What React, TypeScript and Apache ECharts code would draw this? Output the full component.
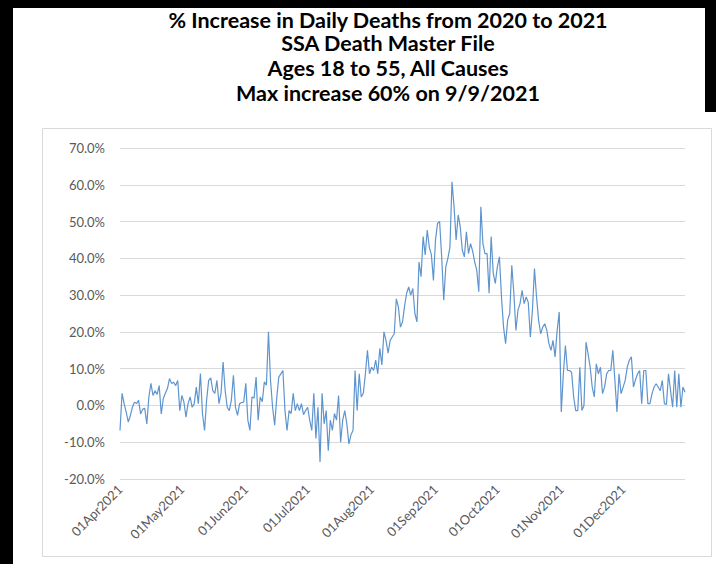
import React, { useEffect, useRef } from "react";
import * as echarts from "echarts";

const TITLE_LINES = [
  "% Increase in Daily Deaths from 2020 to 2021",
  "SSA Death Master File",
  "Ages 18 to 55, All Causes",
  "Max increase 60% on 9/9/2021",
];

const MONTH_NAMES = ["Jan", "Feb", "Mar", "Apr", "May", "Jun", "Jul", "Aug", "Sep", "Oct", "Nov", "Dec"];

// % increase per day, 2021 vs 2020
const APR = [-6.8, 3.3, 0.5, -1.8, -4.5, -2.8, -0.5, 0.9, 0.5, 1.4, -2.3, -1.0, -0.8, -5.0, 2.3, 6.0, 2.7, 4.0, 3.0, 5.4, -2.3, 1.9, 3.3, 4.6, 7.3, 6.0, 6.3, 5.4, 6.8, -1.4];
const MAY = [2.7, 0.9, -3.2, 0.5, 2.3, -0.5, 0.5, 5.0, 0.5, 8.7, -2.2, -6.8, 1.4, 6.8, 7.5, 4.0, 3.3, 6.8, 0.5, 3.3, 11.8, 4.0, -0.5, -1.4, 1.4, 8.2, -0.5, -2.7, 0.5, 0.8, 0.9];
const JUN = [6.0, -4.0, -6.8, 2.3, 2.0, 7.7, -4.0, 2.3, 1.0, 6.4, 5.5, 20.0, 6.8, -0.5, -5.4, 2.0, 7.7, 8.6, 9.5, -1.4, -6.8, -1.4, -2.2, 3.3, -1.4, 0.5, -1.4, 0.5, -2.5, -1.4];
const JUL = [-0.5, -4.0, -6.8, 3.3, -9.0, -0.5, -15.4, 3.3, -5.0, -1.4, -12.3, -4.0, -6.8, -2.2, -4.0, 2.7, -10.0, -4.0, -1.4, -5.0, -10.5, -8.0, -6.8, 9.5, -1.4, 8.6, 2.3, 3.3, 8.6, 15.0, 8.6];
const AUG = [10.4, 9.5, 12.3, 8.6, 15.5, 11.0, 20.0, 17.7, 14.2, 17.7, 18.6, 19.5, 29.0, 26.8, 21.3, 22.7, 27.0, 30.5, 32.2, 30.0, 31.8, 25.0, 22.7, 39.0, 35.0, 45.9, 40.9, 47.7, 43.0, 41.0, 34.0];
const SEP = [45.0, 49.5, 50.0, 40.4, 28.6, 37.7, 40.0, 43.0, 60.8, 54.0, 45.0, 51.8, 48.6, 42.2, 40.4, 47.2, 41.3, 44.0, 42.0, 39.0, 36.8, 30.9, 54.0, 44.0, 41.3, 41.3, 30.5, 45.9, 36.0, 33.2];
const OCT = [37.7, 40.4, 29.5, 21.3, 16.8, 23.2, 25.0, 38.1, 30.5, 20.4, 25.9, 27.7, 31.3, 27.7, 29.5, 28.0, 18.6, 25.9, 37.2, 29.5, 23.2, 19.5, 21.3, 22.2, 20.4, 16.8, 15.0, 17.7, 13.2, 20.4, 25.4];
const NOV = [-1.8, 8.6, 16.3, 9.5, 9.5, 9.0, 2.3, -1.4, -1.4, 10.4, -1.4, 0.0, 17.2, 14.0, 10.4, 5.0, 2.3, 11.3, 8.6, 10.4, 3.2, 5.0, 8.6, 9.5, 9.5, 15.0, 6.8, -1.8, 8.6, 3.2];
const DEC = [5.0, 6.8, 10.4, 12.3, 13.2, 5.0, 7.0, 8.6, 9.5, 0.5, 9.5, 9.5, 0.5, 0.5, 3.2, 5.0, 5.9, 5.0, 4.0, 6.8, 0.5, 0.3, 8.6, 4.0, -0.5, 9.5, -0.5, 8.6, -0.5, 5.0, 3.6];

const Y_MIN = -20;
const Y_MAX = 70;
const Y_STEP = 10;

const VALUES = [...APR, ...MAY, ...JUN, ...JUL, ...AUG, ...SEP, ...OCT, ...NOV, ...DEC];
const START_UTC = Date.UTC(2021, 3, 1);
const DATES = VALUES.map((_, i) => {
  const d = new Date(START_UTC + i * 86400000);
  const dd = String(d.getUTCDate()).padStart(2, "0");
  return dd + MONTH_NAMES[d.getUTCMonth()] + d.getUTCFullYear();
});

const FONT = "Lato, 'Open Sans', sans-serif";

export default function App() {
  const ref = useRef<HTMLDivElement>(null);

  useEffect(() => {
    if (!ref.current) return;
    const chart = echarts.init(ref.current, undefined, { renderer: "svg" });
    const titleY = [19.5, 43, 67.5, 93];
    const option: any = {
      animation: false,
      backgroundColor: "#000",
      textStyle: { fontFamily: FONT },
      graphic: [
        { type: "rect", z: -10, silent: true, shape: { x: 13, y: 8, width: 692, height: 556 }, style: { fill: "#fff" } },
        { type: "rect", z: -10, silent: true, shape: { x: 13, y: 112, width: 703, height: 452 }, style: { fill: "#fff" } },
        { type: "rect", z: -9, silent: true, shape: { x: 42.5, y: 128.5, width: 669, height: 428 }, style: { fill: "#fff", stroke: "#d9d9d9", lineWidth: 1 } },
        ...TITLE_LINES.map((t, i) => ({
          type: "text",
          x: 388,
          y: titleY[i],
          silent: true,
          style: {
            text: t,
            font: "bold 21.5px " + FONT,
            fill: "#000",
            align: "center",
            textAlign: "center",
            verticalAlign: "middle",
            textVerticalAlign: "middle",
          },
        })),
      ],
      grid: { left: 120, right: 31, top: 148, bottom: 85, containLabel: false },
      xAxis: {
        type: "category",
        data: DATES,
        boundaryGap: false,
        axisLine: { show: false },
        axisTick: { show: false },
        splitLine: { show: false },
        axisLabel: {
          interval: (_i: number, v: string) => v.startsWith("01"),
          rotate: 45,
          color: "#595959",
          fontSize: 13,
          fontFamily: FONT,
          margin: 8,
        },
      },
      yAxis: {
        type: "value",
        min: Y_MIN,
        max: Y_MAX,
        interval: Y_STEP,
        axisLine: { show: false },
        axisTick: { show: false },
        axisLabel: {
          formatter: (v: number) => v.toFixed(1) + "%",
          color: "#595959",
          fontSize: 13,
          fontFamily: FONT,
          margin: 15,
        },
        splitLine: { lineStyle: { color: "#d9d9d9", width: 1 } },
      },
      series: [
        {
          type: "line",
          data: VALUES,
          symbol: "none",
          showSymbol: false,
          lineStyle: { color: "#5f95cf", width: 1.2 },
          emphasis: { disabled: true },
        },
      ],
    };
    chart.setOption(option);
    return () => chart.dispose();
  }, []);

  return (
    <div
      ref={ref}
      style={{ position: "absolute", left: 0, top: 0, width: 716, height: 564 }}
    />
  );
}
